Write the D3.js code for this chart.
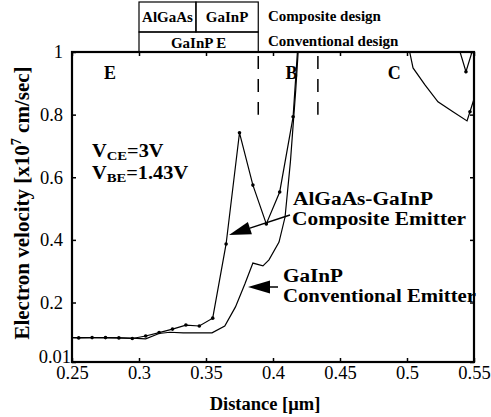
<!DOCTYPE html>
<html>
<head>
<meta charset="utf-8">
<script src="https://cdn.jsdelivr.net/npm/d3@7"></script>
<style>
  html, body { margin: 0; padding: 0; background: #fff; }
  svg { display: block; font-family: "Liberation Serif", "Times New Roman", serif; }
</style>
</head>
<body>
<svg id="chart" width="491" height="417"></svg>
<script>
// Electron velocity profiles through the emitter (E), base (B) and collector (C)
const xTicks = [0.25, 0.3, 0.35, 0.4, 0.45, 0.5, 0.55];
const xTickLabels = ["0.25", "0.3", "0.35", "0.4", "0.45", "0.5", "0.55"];
const yTicks = [0.01, 0.2, 0.4, 0.6, 0.8, 1];
const yTickLabels = ["0.01", "0.2", "0.4", "0.6", "0.8", "1"];

// AlGaAs-GaInP composite emitter (marked points)
const compositeX = [0.25, 0.255, 0.265, 0.275, 0.285, 0.295, 0.305, 0.315, 0.325, 0.335, 0.345, 0.355, 0.365, 0.375, 0.385, 0.395, 0.405, 0.415, 0.419];
const compositeY = [0.088, 0.087, 0.088, 0.088, 0.087, 0.085, 0.093, 0.104, 0.115, 0.128, 0.125, 0.150, 0.387, 0.742, 0.575, 0.451, 0.553, 0.793, 1.05];
// composite emitter, collector side
const collectorX = [0.502, 0.5045, 0.5134, 0.5231, 0.5343, 0.5448, 0.547, 0.55];
const collectorY = [1.0, 0.949, 0.895, 0.841, 0.809, 0.780, 0.809, 0.85];
const collectorDipX = [0.5396, 0.544, 0.5485];
const collectorDipY = [1.0, 0.937, 1.0];

// GaInP conventional emitter
const conventionalX = [0.25, 0.265, 0.285, 0.295, 0.305, 0.315, 0.323, 0.333, 0.3545, 0.364, 0.372, 0.379, 0.385, 0.3925, 0.397, 0.4045, 0.409, 0.413, 0.417, 0.4195];
const conventionalY = [0.088, 0.088, 0.087, 0.086, 0.084, 0.101, 0.105, 0.103, 0.103, 0.125, 0.186, 0.259, 0.326, 0.317, 0.336, 0.393, 0.473, 0.65, 0.88, 1.05];

// layer boundaries (dashed)
const boundaries = [0.389, 0.4335];
const boundaryBottom = 0.8;

const svg = d3.select("#chart");
const m = { left: 72, right: 474, top: 52, bottom: 362 };

const x = d3.scaleLinear().domain([0.25, 0.55]).range([m.left, m.right]);
const y = d3.scaleLinear().domain([0.01, 1]).range([m.bottom, m.top]);

svg.append("defs").append("clipPath").attr("id", "plotClip")
  .append("rect").attr("x", m.left).attr("y", m.top)
  .attr("width", m.right - m.left).attr("height", m.bottom - m.top);

const plot = svg.append("g").attr("clip-path", "url(#plotClip)");

const line = d3.line().x(d => x(d[0])).y(d => y(d[1]));
const zip = (a, b) => a.map((v, i) => [v, b[i]]);

const composite = zip(compositeX, compositeY);
const collector = zip(collectorX, collectorY);
const collectorDip = zip(collectorDipX, collectorDipY);
const conventional = zip(conventionalX, conventionalY);

[conventional, composite, collector, collectorDip].forEach(s => {
  plot.append("path").datum(s).attr("d", line)
    .attr("fill", "none").attr("stroke", "#000").attr("stroke-width", 1.2);
});

plot.selectAll("circle.cm").data(composite.slice(1, -1).concat([collector[6], collectorDip[1]]))
  .enter().append("circle").attr("class", "cm")
  .attr("cx", d => x(d[0])).attr("cy", d => y(d[1])).attr("r", 1.8).attr("fill", "#000");

// dashed layer boundaries
boundaries.forEach(b => {
  svg.append("line")
    .attr("x1", x(b)).attr("x2", x(b)).attr("y1", y(1)).attr("y2", y(boundaryBottom))
    .attr("stroke", "#000").attr("stroke-width", 1.5).attr("stroke-dasharray", "13,10")
    .attr("stroke-dashoffset", -4);
});

// axes
const xAxisB = d3.axisBottom(x).tickValues(xTicks).tickFormat((d, i) => xTickLabels[i]).tickSize(-4).tickPadding(4);
const xAxisT = d3.axisTop(x).tickValues(xTicks).tickFormat("").tickSize(-4);
const yAxisL = d3.axisLeft(y).tickValues(yTicks).tickFormat((d, i) => yTickLabels[i]).tickSize(-4);
const yAxisR = d3.axisRight(y).tickValues(yTicks).tickFormat("").tickSize(-4);

const gxb = svg.append("g").attr("transform", `translate(0,${m.bottom})`).call(xAxisB);
const gxt = svg.append("g").attr("transform", `translate(0,${m.top})`).call(xAxisT);
const gyl = svg.append("g").attr("transform", `translate(${m.left},0)`).call(yAxisL);
const gyr = svg.append("g").attr("transform", `translate(${m.right},0)`).call(yAxisR);

[gxb, gxt, gyl, gyr].forEach(g => {
  g.select(".domain").remove();
  g.selectAll(".tick line").attr("stroke", "#000").attr("stroke-width", 1.5);
  g.selectAll("text").attr("fill", "#000").style("font-family", "Liberation Serif, serif").style("font-size", "18.5px");
});
// the bottom label sits tucked into the corner, just above the x labels
gyl.selectAll(".tick text")
  .attr("x", (d, i) => i === 0 ? -1 : -9)
  .attr("y", (d, i) => i === 0 ? -5 : 0);

// frame
svg.append("rect").attr("x", m.left).attr("y", m.top)
  .attr("width", m.right - m.left).attr("height", m.bottom - m.top)
  .attr("fill", "none").attr("stroke", "#000").attr("stroke-width", 2.2);

// axis titles
svg.append("text").attr("x", 265).attr("y", 410)
  .attr("text-anchor", "middle").style("font-weight", "bold").style("font-size", "18.5px")
  .text("Distance [\u03bcm]");

const yl = svg.append("text").attr("transform", `translate(29,203) rotate(-90)`)
  .attr("text-anchor", "middle").style("font-weight", "bold").style("font-size", "21px");
yl.append("tspan").text("Electron velocity [x10");
yl.append("tspan").attr("dy", -8).style("font-size", "14px").text("7");
yl.append("tspan").attr("dy", 8).text(" cm/sec]");

// design boxes above the plot
function boxRect(x0, y0, x1, y1) {
  svg.append("rect").attr("x", x0).attr("y", y0).attr("width", x1 - x0).attr("height", y1 - y0)
    .attr("fill", "none").attr("stroke", "#000").attr("stroke-width", 1.2);
}
const xE0 = x(0.30), xE1 = x(0.389), xMid = x(0.3425);
boxRect(xE0, 2, xMid, 32);
boxRect(xMid, 2, xE1, 32);
boxRect(xE0, 32, xE1, m.top);

const bold = sel => sel.style("font-weight", "bold").style("font-size", "15px");
bold(svg.append("text").attr("x", (xE0 + xMid) / 2).attr("y", 22).attr("text-anchor", "middle").text("AlGaAs"));
bold(svg.append("text").attr("x", (xMid + xE1) / 2).attr("y", 22).attr("text-anchor", "middle").text("GaInP"));
bold(svg.append("text").attr("x", (xE0 + xE1) / 2).attr("y", 48).attr("text-anchor", "middle").text("GaInP E"));
bold(svg.append("text").attr("x", 268).attr("y", 21).text("Composite design"));
bold(svg.append("text").attr("x", 268).attr("y", 46).text("Conventional design"));

// region labels
const region = (t, xx) => svg.append("text").attr("x", xx).attr("y", 79).attr("text-anchor", "middle")
  .style("font-weight", "bold").style("font-size", "18px").text(t);
region("E", x(0.2784));
region("B", x(0.4138));
region("C", x(0.4905));

// bias conditions
function bias(yy, sub, val) {
  const g = svg.append("g").attr("transform", `translate(92,${yy}) scale(1.13,1)`);
  const t = g.append("text").attr("x", 0).attr("y", 0).style("font-weight", "bold").style("font-size", "18px");
  t.append("tspan").text("V");
  t.append("tspan").attr("dy", 3).style("font-size", "13px").text(sub);
  t.append("tspan").attr("dy", -3).text(val);
}
bias(157, "CE", "=3V");
bias(179, "BE", "=1.43V");

// curve annotations
const ann = (t, xx, yy, len) => svg.append("text").attr("x", xx).attr("y", yy)
  .attr("textLength", len).attr("lengthAdjust", "spacingAndGlyphs")
  .style("font-weight", "bold").style("font-size", "18px").text(t);
ann("AlGaAs-GaInP", 293, 205, 140);
ann("Composite Emitter", 292, 225, 174);
ann("GaInP", 283, 282, 60);
ann("Conventional Emitter", 283, 302, 193);

function arrow(x0, y0, x1, y1) {
  const ang = Math.atan2(y1 - y0, x1 - x0);
  const L = 22, W = 6.5;
  const bx = x1 - L * Math.cos(ang), by = y1 - L * Math.sin(ang);
  svg.append("line").attr("x1", x0).attr("y1", y0).attr("x2", bx).attr("y2", by)
    .attr("stroke", "#000").attr("stroke-width", 1.5);
  const px = -Math.sin(ang) * W, py = Math.cos(ang) * W;
  svg.append("path")
    .attr("d", `M${x1},${y1}L${bx + px},${by + py}L${bx - px},${by - py}Z`)
    .attr("fill", "#000");
}
arrow(290, 215, 229, 235);
arrow(278, 287, 248, 287);
</script>
</body>
</html>
